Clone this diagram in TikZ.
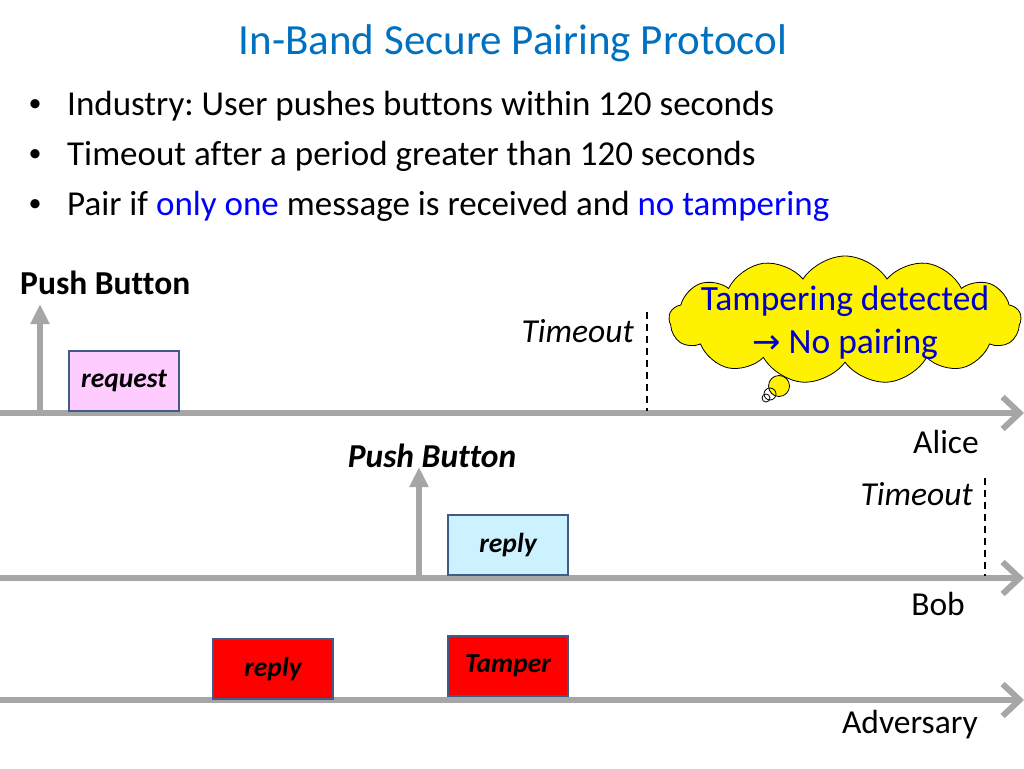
\documentclass[tikz,border=0pt]{standalone}
\usepackage{fontspec}
\setmainfont{Carlito}[Ligatures=NoCommon]
\newfontfamily\symfont{DejaVu Sans}
\usetikzlibrary{arrows.meta,shapes.symbols}
\definecolor{titleblue}{RGB}{0,112,192}
\definecolor{hiblue}{RGB}{0,0,255}
\definecolor{cloudblue}{RGB}{0,0,204}
\definecolor{linegray}{RGB}{166,166,166}
\definecolor{boxborder}{RGB}{65,90,135}
\definecolor{reqpink}{RGB}{255,204,255}
\definecolor{repcyan}{RGB}{204,242,255}
\frenchspacing
\begin{document}
\begin{tikzpicture}[x=1pt,y=-1pt]
  \tikzstyle{TimeLine}=[draw=linegray,line width=6pt,-{Straight Barb[length=17pt,width=32pt]}]
  \tikzstyle{PushArrow}=[draw=linegray,line width=6pt,-{Triangle[length=20pt,width=18pt]}]
  \tikzstyle{MsgBox}=[draw=boxborder,line width=1.8pt,minimum width=120pt,minimum height=60pt,
                      inner sep=0pt,font=\fontsize{27.5}{32}\selectfont\bfseries\itshape]
  \tikzstyle{Label}=[inner sep=0pt,font=\fontsize{33.5}{40}\selectfont]
  \tikzstyle{Bullet}=[anchor=west,inner sep=0pt,font=\fontsize{35}{42}\selectfont]
  \tikzstyle{TimeoutLine}=[draw=black,line width=1.5pt,dash pattern=on 7pt off 5pt]
  \useasboundingbox (0,0) rectangle (1024,768);
  % title and bullets
  \node[inner sep=0pt,text=titleblue,font=\fontsize{43}{50}\selectfont] (title) at (513,43) {In-Band Secure Pairing Protocol};
  \node[Bullet] (b1) at (67,106) {Industry: User pushes buttons within 120 seconds};
  \node[Bullet] (b2) at (67,156) {Timeout after a period greater than 120 seconds};
  \node[Bullet] (b3) at (67,206) {Pair if \textcolor{hiblue}{only one} message is received and \textcolor{hiblue}{no tampering}};
  \foreach \y/\n in {106/1,156/2,206/3}
    \node[inner sep=0pt,font=\fontsize{26}{30}\selectfont] (dot\n) at (35,\y) {•};
  % time lines
  \coordinate (aliceL) at (0,413);   \coordinate (aliceR) at (1024,413);
  \coordinate (bobL) at (0,578);     \coordinate (bobR) at (1024,578);
  \coordinate (advL) at (0,700);     \coordinate (advR) at (1024,700);
  \draw[TimeLine] (aliceL) -- (aliceR);
  \draw[TimeLine] (bobL) -- (bobR);
  \draw[TimeLine] (advL) -- (advR);
  \node[Label,anchor=east] (alice) at (979,442) {Alice};
  \node[Label,anchor=east] (bob) at (965,604) {Bob};
  \node[Label,anchor=east] (adv) at (978,725) {Adversary};
  % Alice
  \coordinate (pushA0) at (40,411);  \coordinate (pushA1) at (40,304);
  \draw[PushArrow] (pushA0) -- (pushA1);
  \node[Label,anchor=west,font=\fontsize{33.5}{40}\selectfont\bfseries] (pushA) at (20,283) {Push Button};
  \node[MsgBox,fill=reqpink,minimum width=110pt] (request) at (124,381) {request};
  \node[Label,anchor=east,font=\fontsize{33.5}{40}\selectfont\itshape] (toA) at (634,331) {Timeout};
  \coordinate (toA0) at (647,312);   \coordinate (toA1) at (647,411);
  \draw[TimeoutLine] (toA0) -- (toA1);
  % cloud
  \node[cloud,cloud puffs=13,cloud puff arc=115,cloud ignores aspect,draw=black,fill=yellow,line width=0.8pt,
        minimum width=352pt,minimum height=128pt,inner sep=0pt] (cloud) at (845,320) {};
  \node[inner sep=0pt,align=center,text=cloudblue,font=\fontsize{35.5}{43}\selectfont,yshift=-3pt] (cloudtext) at (cloud.center)
        {Tampering detected\\{\symfont\fontsize{34}{43}\selectfont→} No pairing};
  \node[circle,draw=black,fill=yellow,line width=0.8pt,minimum size=21pt,inner sep=0pt] (puff1) at (779,386) {};
  \node[circle,draw=black,line width=0.8pt,minimum size=12pt,inner sep=0pt] (puff2) at (770,394) {};
  \node[circle,draw=black,line width=0.8pt,minimum size=8pt,inner sep=0pt] (puff3) at (766,398) {};
  % Bob
  \coordinate (pushB0) at (419,576);  \coordinate (pushB1) at (419,467);
  \draw[PushArrow] (pushB0) -- (pushB1);
  \node[Label,font=\fontsize{33.5}{40}\selectfont\bfseries\itshape] (pushB) at (432,456) {Push Button};
  \node[MsgBox,fill=repcyan] (replyB) at (508,545) {reply};
  \node[Label,anchor=east,font=\fontsize{33.5}{40}\selectfont\itshape] (toB) at (973,494) {Timeout};
  \coordinate (toB0) at (985,478);   \coordinate (toB1) at (985,576);
  \draw[TimeoutLine] (toB0) -- (toB1);
  % Adversary
  \node[MsgBox,fill=red] (replyE) at (273,669) {reply};
  \node[MsgBox,fill=red] (tamper) at (508,666) {Tamper};
\end{tikzpicture}
\end{document}
